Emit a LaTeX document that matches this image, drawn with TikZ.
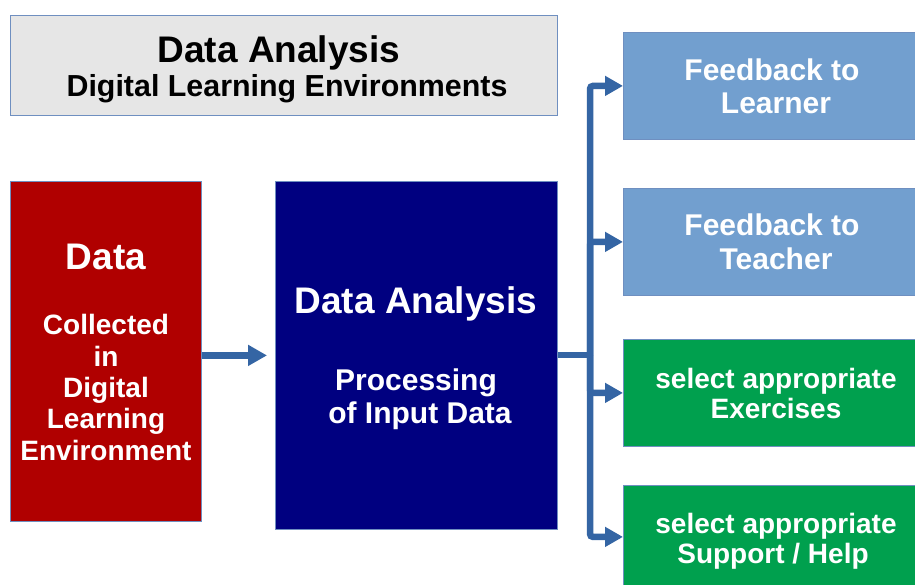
\documentclass[tikz,border=0pt]{standalone}
\usepackage{fontspec}
\setmainfont{Liberation Sans}
\usetikzlibrary{arrows.meta}
\definecolor{titlegray}{HTML}{E6E6E6}
\definecolor{edgeblue}{HTML}{6F8FC0}
\definecolor{datared}{HTML}{B00000}
\definecolor{navyblue}{HTML}{000080}
\definecolor{lightblue}{HTML}{729FCF}
\definecolor{okgreen}{HTML}{00A04E}
\definecolor{arrowblue}{HTML}{3465A4}
\tikzset{
  box/.style={draw=edgeblue, line width=0.8pt, rectangle, inner sep=0pt, anchor=north west},
  txt/.style={anchor=base, inner sep=0pt, font=\bfseries},
  wtxt/.style={txt, text=white},
  arr/.style={draw=arrowblue, line width=6.5pt, rounded corners=3pt,
    -{Triangle[length=18pt,width=19pt]}},
}
\begin{document}
\begin{tikzpicture}[x=1pt,y=-1pt]
\clip (0,0) rectangle (915,584);
\fill[white] (0,0) rectangle (915,584);
% boxes
\node[box, fill=titlegray, minimum width=547pt, minimum height=100pt] (title) at (10,15) {};
\node[box, fill=datared, minimum width=191pt, minimum height=340pt] (data) at (10,181) {};
\node[box, fill=navyblue, minimum width=282pt, minimum height=348pt] (ana) at (275,181) {};
\node[box, fill=lightblue, minimum width=300pt, minimum height=107pt] (fbl) at (623,32) {};
\node[box, fill=lightblue, minimum width=300pt, minimum height=107pt] (fbt) at (623,188) {};
\node[box, fill=okgreen, minimum width=300pt, minimum height=107pt] (exe) at (623,339) {};
\node[box, fill=okgreen, minimum width=300pt, minimum height=107pt] (sup) at (623,485) {};
% title text
\node[txt, font=\bfseries\fontsize{37}{42}\selectfont] (t1) at (279,62) {Data Analysis};
\node[txt, font=\bfseries\fontsize{30.4}{36}\selectfont] (t2) at (287,96) {Digital Learning Environments};
% data text
\node[wtxt, font=\bfseries\fontsize{37}{40}\selectfont] (d1) at (106,269) {Data};
\node[wtxt, font=\bfseries\fontsize{28}{32}\selectfont] (d2) at (106,334) {Collected};
\node[wtxt, font=\bfseries\fontsize{28}{32}\selectfont] (d3) at (106,366) {in};
\node[wtxt, font=\bfseries\fontsize{28}{32}\selectfont] (d4) at (106,397) {Digital};
\node[wtxt, font=\bfseries\fontsize{28}{32}\selectfont] (d5) at (106,428) {Learning};
\node[wtxt, font=\bfseries\fontsize{28}{32}\selectfont] (d6) at (106,460) {Environment};
% analysis text
\node[wtxt, font=\bfseries\fontsize{37}{40}\selectfont] (a1) at (416,313) {Data Analysis};
\node[wtxt, font=\bfseries\fontsize{30}{34}\selectfont] (a2) at (416,390) {Processing};
\node[wtxt, font=\bfseries\fontsize{30}{34}\selectfont] (a3) at (420,423) {of Input Data};
% right boxes text
\node[wtxt, font=\bfseries\fontsize{30}{34}\selectfont] (f1) at (772,80) {Feedback to};
\node[wtxt, font=\bfseries\fontsize{30}{34}\selectfont] (f2) at (776,113) {Learner};
\node[wtxt, font=\bfseries\fontsize{30}{34}\selectfont] (f3) at (772,235) {Feedback to};
\node[wtxt, font=\bfseries\fontsize{30}{34}\selectfont] (f4) at (776,269) {Teacher};
\node[wtxt, font=\bfseries\fontsize{28}{32}\selectfont] (e1) at (776,388) {select appropriate};
\node[wtxt, font=\bfseries\fontsize{28}{32}\selectfont] (e2) at (776,418) {Exercises};
\node[wtxt, font=\bfseries\fontsize{28}{32}\selectfont] (s1) at (776,533) {select appropriate};
\node[wtxt, font=\bfseries\fontsize{28}{32}\selectfont] (s2) at (773,563) {Support / Help};
% connectors
\coordinate (hub) at (590,355);
\draw[arr, line width=7pt, -{Triangle[length=19pt,width=20pt]}] (data.east |- ana.west) -- ([xshift=-8pt]ana.west);
\draw[draw=arrowblue, line width=6.5pt] (ana.east |- hub) -- (hub);
\draw[arr] (hub) |- (fbl.west);
\draw[arr] (hub) |- (fbt.west);
\draw[arr] (hub) |- (exe.west);
\draw[arr] (hub) |- ([yshift=2pt]sup.west);
\end{tikzpicture}
\end{document}
